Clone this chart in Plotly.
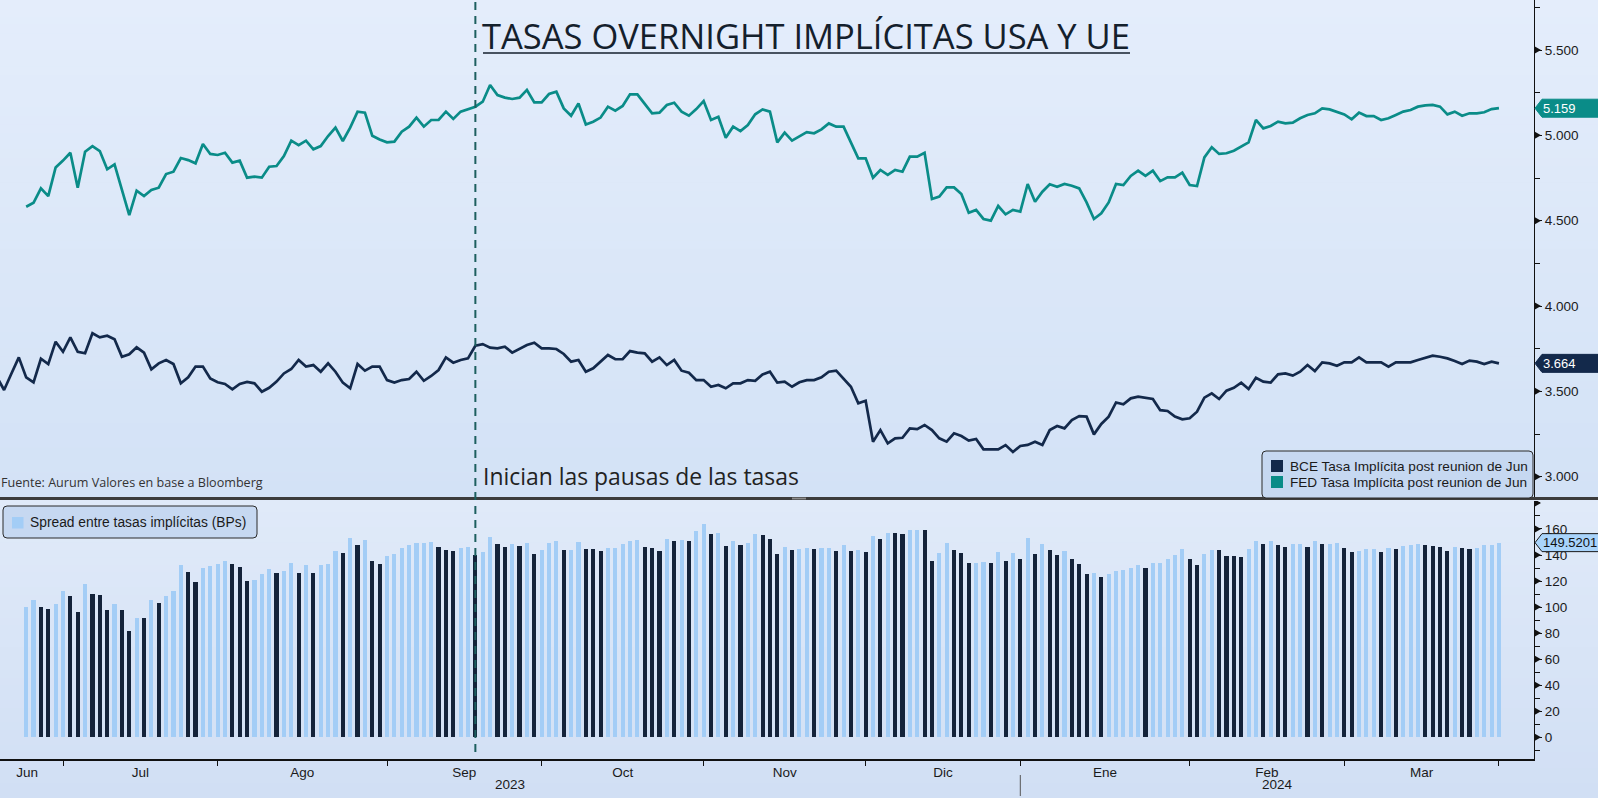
import pandas as pd
import plotly.graph_objects as go

# ---------------- data ----------------
dates = pd.bdate_range("2023-06-19", "2024-03-29")   # business days on the axis
fed_start = "2023-06-23"                               # first FED / spread observation
event_date = "2023-09-18"                              # "Inician las pausas de las tasas"

bce = [3.586, 3.508, 3.605, 3.699, 3.582, 3.553, 3.691, 3.660, 3.791, 3.732,
       3.816, 3.732, 3.723, 3.840, 3.816, 3.826, 3.805, 3.703, 3.717, 3.758,
       3.727, 3.629, 3.664, 3.684, 3.660, 3.547, 3.582, 3.645, 3.645, 3.576,
       3.553, 3.543, 3.512, 3.543, 3.555, 3.547, 3.498, 3.521, 3.557, 3.605,
       3.631, 3.684, 3.645, 3.654, 3.615, 3.664, 3.615, 3.551, 3.518, 3.660,
       3.621, 3.645, 3.645, 3.566, 3.552, 3.566, 3.572, 3.615, 3.562, 3.590,
       3.625, 3.699, 3.668, 3.684, 3.693, 3.767, 3.777, 3.756, 3.752, 3.762,
       3.727, 3.752, 3.772, 3.785, 3.752, 3.752, 3.748, 3.719, 3.674, 3.684,
       3.615, 3.635, 3.674, 3.713, 3.688, 3.688, 3.736, 3.727, 3.723, 3.674,
       3.699, 3.654, 3.684, 3.621, 3.609, 3.566, 3.566, 3.527, 3.537, 3.518,
       3.547, 3.547, 3.566, 3.562, 3.599, 3.615, 3.551, 3.557, 3.527, 3.553,
       3.566, 3.566, 3.582, 3.615, 3.621, 3.576, 3.527, 3.430, 3.445, 3.205,
       3.273, 3.195, 3.225, 3.228, 3.283, 3.279, 3.303, 3.273, 3.225, 3.205,
       3.254, 3.238, 3.211, 3.221, 3.160, 3.160, 3.160, 3.185, 3.145, 3.180,
       3.186, 3.205, 3.186, 3.273, 3.297, 3.283, 3.332, 3.355, 3.352, 3.248,
       3.309, 3.352, 3.435, 3.424, 3.459, 3.469, 3.463, 3.455, 3.390, 3.385,
       3.352, 3.336, 3.342, 3.381, 3.463, 3.488, 3.455, 3.504, 3.521, 3.551,
       3.514, 3.580, 3.557, 3.551, 3.600, 3.605, 3.592, 3.615, 3.654, 3.619,
       3.670, 3.664, 3.650, 3.670, 3.670, 3.699, 3.670, 3.670, 3.670, 3.645,
       3.670, 3.670, 3.670, 3.684, 3.697, 3.709, 3.703, 3.693, 3.678, 3.660,
       3.680, 3.674, 3.660, 3.674, 3.664]

fed = [4.582, 4.605, 4.689, 4.644, 4.812, 4.852,
       4.898, 4.693, 4.904, 4.937, 4.908, 4.801, 4.830, 4.684, 4.533, 4.676,
       4.644, 4.680, 4.693, 4.773, 4.787, 4.867, 4.855, 4.836, 4.949, 4.891,
       4.885, 4.898, 4.840, 4.852, 4.752, 4.758, 4.752, 4.816, 4.820, 4.879,
       4.969, 4.943, 4.969, 4.918, 4.937, 4.996, 5.045, 4.967, 5.045, 5.139,
       5.133, 4.998, 4.976, 4.959, 4.963, 5.021, 5.051, 5.104, 5.051, 5.090,
       5.090, 5.139, 5.096, 5.139, 5.154, 5.168, 5.197, 5.295, 5.236, 5.221,
       5.213, 5.221, 5.266, 5.193, 5.193, 5.242, 5.256, 5.158, 5.115, 5.187,
       5.064, 5.080, 5.104, 5.168, 5.145, 5.172, 5.240, 5.240, 5.184, 5.129,
       5.133, 5.178, 5.191, 5.139, 5.115, 5.154, 5.201, 5.090, 5.109, 4.986,
       5.051, 5.025, 5.060, 5.123, 5.152, 5.139, 4.959, 5.016, 4.969, 4.996,
       5.019, 5.012, 5.035, 5.070, 5.051, 5.051, 4.957, 4.865, 4.865, 4.752,
       4.797, 4.768, 4.797, 4.787, 4.875, 4.875, 4.898, 4.627, 4.641, 4.695,
       4.695, 4.656, 4.547, 4.563, 4.510, 4.500, 4.586, 4.537, 4.563, 4.553,
       4.715, 4.611, 4.670, 4.713, 4.699, 4.715, 4.705, 4.689, 4.607, 4.510,
       4.543, 4.607, 4.715, 4.709, 4.762, 4.793, 4.762, 4.793, 4.732, 4.754,
       4.754, 4.781, 4.709, 4.703, 4.871, 4.930, 4.891, 4.895, 4.910, 4.937,
       4.959, 5.090, 5.041, 5.055, 5.080, 5.070, 5.074, 5.100, 5.119, 5.129,
       5.158, 5.152, 5.139, 5.123, 5.094, 5.133, 5.113, 5.113, 5.090, 5.100,
       5.119, 5.139, 5.148, 5.168, 5.176, 5.178, 5.168, 5.123, 5.139, 5.115,
       5.129, 5.129, 5.135, 5.154, 5.159]

spread = [100.0, 105.2, 99.8, 98.4, 102.1, 112.0,
          108.2, 96.1, 118.1, 109.7, 109.2, 97.5, 102.5, 98.1, 81.6, 91.8,
          91.7, 105.1, 102.9, 108.9, 112.7, 132.0, 127.3, 119.1, 130.4, 131.5,
          133.2, 135.5, 132.8, 130.9, 119.7, 121.1, 125.4, 129.5, 126.3, 127.4,
          133.8, 125.9, 132.4, 126.4, 132.2, 133.2, 143.0, 141.6, 152.7, 147.9,
          151.2, 135.3, 133.1, 139.3, 141.1, 145.5, 147.9, 148.9, 148.9, 150.0,
          146.5, 144.0, 142.8, 145.5, 146.1, 140.1, 142.0, 153.9, 148.4, 145.9,
          148.6, 146.9, 149.4, 140.8, 144.1, 149.0, 150.8, 143.9, 144.1, 150.3,
          144.9, 144.5, 143.0, 145.5, 145.7, 148.4, 150.4, 151.3, 146.1, 145.5,
          143.4, 152.4, 150.7, 151.8, 150.6, 158.8, 163.5, 156.3, 157.2, 146.8,
          150.4, 147.8, 149.4, 156.1, 155.3, 152.4, 140.8, 145.9, 144.2, 144.3,
          145.3, 144.6, 145.3, 145.5, 143.0, 147.5, 143.0, 143.5, 142.0, 154.7,
          152.4, 157.3, 157.2, 155.9, 159.2, 159.6, 159.5, 135.4, 141.6, 149.0,
          144.1, 141.8, 133.6, 134.2, 135.0, 134.0, 142.6, 135.2, 141.8, 137.3,
          152.9, 140.6, 148.4, 144.0, 140.2, 143.2, 137.3, 133.4, 125.5, 126.2,
          123.4, 125.5, 128.0, 128.5, 130.3, 132.4, 129.9, 133.8, 134.2, 136.9,
          140.2, 144.5, 136.7, 132.2, 140.8, 144.2, 143.6, 139.1, 138.9, 138.6,
          144.5, 151.0, 148.4, 150.4, 148.0, 146.5, 148.2, 148.5, 146.5, 151.0,
          148.8, 148.8, 148.9, 145.3, 142.4, 143.4, 144.3, 144.3, 142.0, 145.5,
          144.9, 146.9, 147.8, 148.4, 147.9, 146.9, 146.5, 143.0, 146.1, 145.5,
          144.9, 145.5, 147.5, 148.0, 149.5201]

month_names = {6: "Jun", 7: "Jul", 8: "Ago", 9: "Sep", 10: "Oct", 11: "Nov",
               12: "Dic", 1: "Ene", 2: "Feb", 3: "Mar"}

NAME_BCE = "BCE Tasa Implícita post reunion de Jun"
NAME_FED = "FED Tasa Implícita post reunion de Jun"
NAME_SPR = "Spread entre tasas implícitas (BPs)"
TITLE = "TASAS OVERNIGHT IMPLÍCITAS USA Y UE"
SOURCE = "Fuente: Aurum Valores en base a Bloomberg"
EVENT_TXT = "Inician las pausas de las tasas"

# ---------------- styles ----------------
C_FED = "#0a8c88"
C_BCE = "#13294b"
C_BAR_UP = "#a3cdf6"
C_BAR_DN = "#14233a"
TICK_FONT = dict(family="Liberation Sans, Arial, sans-serif", size=13.5, color="#1a1a1a")
GEO_FONT = "Open Sans, Lato, sans-serif"

W, H = 1598, 798
PL, PR, PT, PB = 0, 1534, 0, 759          # plot area in pixels
TOP_BOTTOM_PX = 497                        # bottom of upper panel
BOT_TOP_PX = 501                           # top of lower panel


def px(x):
    return (x - PL) / (PR - PL)


def py(y):
    return (PB - y) / (PB - PT)


def hex2rgb(h):
    h = h.lstrip("#")
    return tuple(int(h[i:i + 2], 16) for i in (0, 2, 4))


def mix(c0, c1, t):
    a, b = hex2rgb(c0), hex2rgb(c1)
    return "rgb(%d,%d,%d)" % tuple(round(a[k] + (b[k] - a[k]) * t) for k in range(3))


def rrect(x0, y0, x1, y1, r):
    X, Y = px, py
    return (f"M {X(x0 + r)},{Y(y0)} L {X(x1 - r)},{Y(y0)} Q {X(x1)},{Y(y0)} {X(x1)},{Y(y0 + r)} "
            f"L {X(x1)},{Y(y1 - r)} Q {X(x1)},{Y(y1)} {X(x1 - r)},{Y(y1)} L {X(x0 + r)},{Y(y1)} "
            f"Q {X(x0)},{Y(y1)} {X(x0)},{Y(y1 - r)} L {X(x0)},{Y(y0 + r)} Q {X(x0)},{Y(y0)} {X(x0 + r)},{Y(y0)} Z")


# ---------------- positions derived from the dates ----------------
pos = {d: i for i, d in enumerate(dates)}
x_bce = list(range(len(bce)))
i0 = pos[pd.Timestamp(fed_start)]
x_fed = list(range(i0, i0 + len(fed)))
x_event = pos[pd.Timestamp(event_date)]

# month boundaries = last business day of each month
ser = pd.Series(range(len(dates)), index=dates)
last_idx = ser.groupby([dates.year, dates.month]).max()
boundaries = list(last_idx.values)
months = list(last_idx.index)

# axis range (pixel-matched to the reference)
x_lo, x_hi = 0.445, 208.76

lab_pos, lab_txt = [], []
prev = x_lo
for (yy, mm), b in zip(months, boundaries):
    lab_pos.append((prev + b) / 2 if prev != x_lo else (prev + b) / 2 - 0.6)
    lab_txt.append(month_names[mm])
    prev = b

year_break = boundaries[[m for _, m in months].index(12)]

bar_colors = [C_BAR_UP] + [C_BAR_DN if b < a else C_BAR_UP for a, b in zip(spread[:-1], spread[1:])]

# ---------------- traces ----------------
fig = go.Figure()
fig.add_trace(go.Bar(x=x_fed, y=spread, name=NAME_SPR, marker=dict(color=bar_colors, line=dict(width=0)),
                     width=0.56, xaxis="x2", yaxis="y2"))
fig.add_trace(go.Scatter(x=x_bce, y=bce, name=NAME_BCE, mode="lines",
                         line=dict(color=C_BCE, width=2.7), xaxis="x", yaxis="y"))
fig.add_trace(go.Scatter(x=x_fed, y=fed, name=NAME_FED, mode="lines",
                         line=dict(color=C_FED, width=2.7), xaxis="x", yaxis="y"))

# ---------------- shapes ----------------
shapes = []
# gradient background bands
def bands(y0, y1, c0, c1, n):
    step = (y1 - y0) / n
    for k in range(n):
        shapes.append(dict(type="rect", xref="paper", yref="paper", layer="below",
                           x0=px(0), x1=px(W), y0=py(y0 + k * step), y1=py(y0 + (k + 1) * step + 0.6),
                           fillcolor=mix(c0, c1, k / (n - 1)), line=dict(width=0)))

bands(0, TOP_BOTTOM_PX, "#e4edfb", "#d3e2f6", 60)
bands(TOP_BOTTOM_PX, H, "#e0eaf9", "#d1dff4", 40)

# separator between the two panels (+ small grip in the middle)
shapes.append(dict(type="line", xref="paper", yref="paper", x0=px(0), x1=px(W),
                   y0=py(498.5), y1=py(498.5), line=dict(color="#3c3c3c", width=3)))
shapes.append(dict(type="rect", xref="paper", yref="paper", x0=px(792), x1=px(806),
                   y0=py(497.6), y1=py(499.4), fillcolor="#8c8c8c", line=dict(width=0)))

# event dashed line
shapes.append(dict(type="line", xref="x", yref="paper", x0=x_event, x1=x_event,
                   y0=py(752), y1=py(0), line=dict(color="#1d5f5f", width=2, dash="8px,6px")))

# title underline
shapes.append(dict(type="line", xref="paper", yref="paper", x0=px(483), x1=px(1130),
                   y0=py(53), y1=py(53), line=dict(color="#14202c", width=1.5)))

# year separator
shapes.append(dict(type="line", xref="x2", yref="paper", x0=year_break, x1=year_break,
                   y0=py(775), y1=py(796), line=dict(color="#555555", width=1)))

# legend boxes + swatches
shapes.append(dict(type="path", xref="paper", yref="paper", path=rrect(1262, 451, 1533, 498, 4),
                   fillcolor="#c6d8f1", line=dict(color="#2a2a2a", width=1)))
shapes.append(dict(type="rect", xref="paper", yref="paper", x0=px(1271), x1=px(1283),
                   y0=py(460), y1=py(472), fillcolor=C_BCE, line=dict(width=0)))
shapes.append(dict(type="rect", xref="paper", yref="paper", x0=px(1271), x1=px(1283),
                   y0=py(476), y1=py(488), fillcolor=C_FED, line=dict(width=0)))
shapes.append(dict(type="path", xref="paper", yref="paper", path=rrect(3, 506, 257, 538, 4),
                   fillcolor="#c6d8f1", line=dict(color="#2a2a2a", width=1)))
shapes.append(dict(type="rect", xref="paper", yref="paper", x0=px(12), x1=px(23.5),
                   y0=py(517), y1=py(528.5), fillcolor=C_BAR_UP, line=dict(width=0)))

# triangle markers on major ticks
top_ticks = [3.0, 3.5, 4.0, 4.5, 5.0, 5.5]
bot_ticks = [0, 20, 40, 60, 80, 100, 120, 140, 160]
for yref, vals in (("y", top_ticks), ("y2", bot_ticks + [180])):
    for v in vals:
        shapes.append(dict(type="path", xref="paper", xsizemode="pixel", xanchor=1,
                           yref=yref, ysizemode="pixel", yanchor=v,
                           path="M 0,-4 L 7,0 L 0,4 Z", fillcolor="#111111", line=dict(width=0)))

# value tags on the right axis
annotations = []
tags = [("y", fed[-1], "%.3f" % fed[-1], C_FED, "white", C_FED),
        ("y", bce[-1], "%.3f" % bce[-1], C_BCE, "white", C_BCE),
        ("y2", spread[-1], "%.4f" % spread[-1], "#a9d4fb", "#111111", "#1a1a1a")]
for yref, v, txt, bg, fg, border in tags:
    shapes.append(dict(type="path", xref="paper", xsizemode="pixel", xanchor=1,
                       yref=yref, ysizemode="pixel", yanchor=v,
                       path="M 1,0 L 8,9 L 70,9 L 70,-9 L 8,-9 Z", fillcolor=bg,
                       line=dict(color=border, width=1)))
    annotations.append(dict(xref="paper", x=1, xanchor="left", xshift=7, yref=yref, y=v,
                            text=txt, showarrow=False, font=dict(TICK_FONT, size=13, color=fg)))

# ---------------- annotations ----------------
annotations += [
    dict(xref="paper", yref="paper", x=px(480), y=py(36), xanchor="left", yanchor="middle",
         text=TITLE, showarrow=False, font=dict(family=GEO_FONT, size=34.5, color="#14202c")),
    dict(xref="paper", yref="paper", x=px(-1), y=py(482), xanchor="left", yanchor="middle",
         text=SOURCE, showarrow=False, font=dict(family=GEO_FONT, size=12.6, color="#333333")),
    dict(xref="paper", yref="paper", x=px(481), y=py(476), xanchor="left", yanchor="middle",
         text=EVENT_TXT, showarrow=False, font=dict(family=GEO_FONT, size=22.9, color="#222222")),
    dict(xref="paper", yref="paper", x=px(1288), y=py(466), xanchor="left", yanchor="middle",
         text=NAME_BCE, showarrow=False, font=dict(TICK_FONT, size=13.6)),
    dict(xref="paper", yref="paper", x=px(1288), y=py(482), xanchor="left", yanchor="middle",
         text=NAME_FED, showarrow=False, font=dict(TICK_FONT, size=13.6)),
    dict(xref="paper", yref="paper", x=px(28), y=py(522), xanchor="left", yanchor="middle",
         text=NAME_SPR, showarrow=False, font=dict(TICK_FONT, size=13.8)),
    dict(xref="x2", yref="paper", x=(x_lo + year_break) / 2, y=py(784), xanchor="center", yanchor="middle",
         text=str(dates[0].year), showarrow=False, font=TICK_FONT),
    dict(xref="x2", yref="paper", x=(year_break + x_hi) / 2, y=py(784), xanchor="center", yanchor="middle",
         text=str(dates[-1].year), showarrow=False, font=TICK_FONT),
]

# ---------------- layout ----------------
fig.update_layout(
    width=W, height=H, margin=dict(l=PL, r=W - PR, t=PT, b=H - PB, pad=0),
    paper_bgcolor="#d6e3f6", plot_bgcolor="rgba(0,0,0,0)", showlegend=False,
    bargap=0, shapes=shapes, annotations=annotations,
    xaxis=dict(domain=[0, 1], anchor="y", range=[x_lo, x_hi], visible=False, matches="x2"),
    xaxis2=dict(domain=[0, 1], anchor="y2", range=[x_lo, x_hi], showgrid=False, zeroline=False,
                showline=True, linecolor="#111111", linewidth=1.5,
                tickmode="array", tickvals=lab_pos, ticktext=lab_txt, ticks="", tickfont=TICK_FONT,
                minor=dict(tickmode="array", tickvals=boundaries, ticks="outside", ticklen=5,
                           tickcolor="#111111", tickwidth=1, showgrid=False)),
    yaxis=dict(domain=[py(TOP_BOTTOM_PX), 1], anchor="x", side="right", range=[2.881, 5.793],
               tickmode="array", tickvals=top_ticks, tickformat=".3f", ticks="outside", ticklen=7,
               tickcolor="#111111", showline=True, linecolor="#111111", linewidth=1,
               showgrid=False, zeroline=False, tickfont=TICK_FONT,
               minor=dict(tickmode="linear", tick0=0, dtick=0.25, ticks="outside", ticklen=5,
                          tickcolor="#111111", showgrid=False)),
    yaxis2=dict(domain=[0, py(BOT_TOP_PX)], anchor="x2", side="right", range=[-16.7, 181.5],
                tickmode="array", tickvals=bot_ticks, ticks="outside", ticklen=7,
                tickcolor="#111111", showline=True, linecolor="#111111", linewidth=1,
                showgrid=False, zeroline=False, tickfont=TICK_FONT,
                minor=dict(tickmode="linear", tick0=0, dtick=10, ticks="outside", ticklen=5,
                           tickcolor="#111111", showgrid=False)),
)

fig.write_html("out.html")
